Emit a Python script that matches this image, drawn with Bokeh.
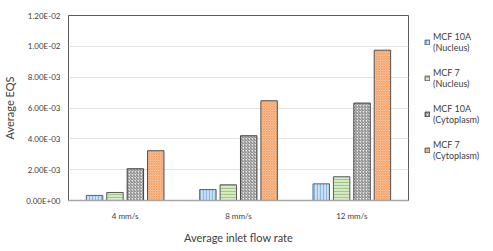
from bokeh.plotting import figure
from bokeh.models import ColumnDataSource, FactorRange, FixedTicker, CustomJSTickFormatter, Legend, LegendItem
from bokeh.transform import dodge
from bokeh.embed import file_html
from bokeh.resources import INLINE

categories = ["4 mm/s", "8 mm/s", "12 mm/s"]
mcf10a_nucleus = [0.33e-3, 0.71e-3, 1.08e-3]
mcf7_nucleus = [0.52e-3, 1.02e-3, 1.54e-3]
mcf10a_cyto = [2.06e-3, 4.20e-3, 6.32e-3]
mcf7_cyto = [3.23e-3, 6.47e-3, 9.75e-3]
series_labels = ["MCF 10A\n(Nucleus)", "MCF 7\n(Nucleus)", "MCF 10A\n(Cytoplasm)", "MCF 7\n(Cytoplasm)"]
y_ticks = [0, 0.002, 0.004, 0.006, 0.008, 0.010, 0.012]

source = ColumnDataSource(dict(cat=categories, a=mcf10a_nucleus, b=mcf7_nucleus,
                               c=mcf10a_cyto, d=mcf7_cyto))

p = figure(x_range=FactorRange(*categories), y_range=(0, 0.012),
           frame_width=340, frame_height=185, output_backend="svg", toolbar_location=None,
           min_border_left=67, min_border_top=15, min_border_right=0, min_border_bottom=30)

styles = [
    dict(col="a", fill="#C9DFF2", hatch="#8DB9E2", pat="vertical_line", line="#50627A", scale=3, w=1.2),
    dict(col="b", fill="#D8EACB", hatch="#9FCB80", pat="horizontal_line", line="#5A5A5A", scale=3, w=1.2),
    dict(col="c", fill="#E8E8E8", hatch="#7A7A7A", pat="right_diagonal_line", line="#404040", scale=3, w=1.0),
    dict(col="d", fill="#FCE0CC", hatch="#F29B5E", pat="diagonal_cross", line="#505050", scale=2.5, w=1.1),
]
offsets = [-0.27, -0.09, 0.09, 0.27]
items = []
for st, off, lab in zip(styles, offsets, series_labels):
    r = p.vbar(x=dodge("cat", off, range=p.x_range), top=st["col"], width=0.145, source=source,
               fill_color=st["fill"], hatch_color=st["hatch"], hatch_pattern=st["pat"],
               hatch_scale=st["scale"], hatch_weight=st["w"], line_color=st["line"], line_width=1)
    items.append(LegendItem(label=lab, renderers=[r]))

legend = Legend(items=items, location="top_left", border_line_color=None, background_fill_alpha=0,
                glyph_width=6, glyph_height=6, label_text_font="Lato", label_text_font_size="9px",
                label_text_color="#404040", spacing=14, padding=0, margin=16,
                label_standoff=3, label_height=20)
p.add_layout(legend, "right")

p.outline_line_color = "#595959"
p.outline_line_width = 1
p.xgrid.grid_line_color = None
p.ygrid.grid_line_color = "#E3E3E3"
p.ygrid.ticker = FixedTicker(ticks=y_ticks)

p.yaxis.ticker = FixedTicker(ticks=y_ticks)
p.yaxis.formatter = CustomJSTickFormatter(code="""
const s = tick.toExponential(2).split('e');
const e = parseInt(s[1]);
return s[0] + 'E' + (e < 0 ? '-' : '+') + String(Math.abs(e)).padStart(2, '0');
""")
for ax in (p.xaxis, p.yaxis):
    ax.major_tick_line_color = None
    ax.minor_tick_line_color = None
    ax.major_label_text_font = "Lato"
    ax.major_label_text_font_size = "8px"
    ax.major_label_text_color = "#404040"
    ax.axis_label_text_font = "Lato"
    ax.axis_label_text_font_size = "11px"
    ax.axis_label_text_font_style = "normal"
    ax.axis_label_text_color = "#404040"
p.yaxis.axis_line_color = None
p.xaxis.axis_line_color = "#A6A6A6"
p.xaxis.axis_line_width = 1.5
p.yaxis.major_label_standoff = 2
p.xaxis.major_label_standoff = 4
p.yaxis.axis_label = "Average EQS"
p.xaxis.axis_label = "Average inlet flow rate"
p.xaxis.axis_label_standoff = 7
p.yaxis.axis_label_standoff = 7

open("out.html", "w").write(file_html(p, INLINE))
